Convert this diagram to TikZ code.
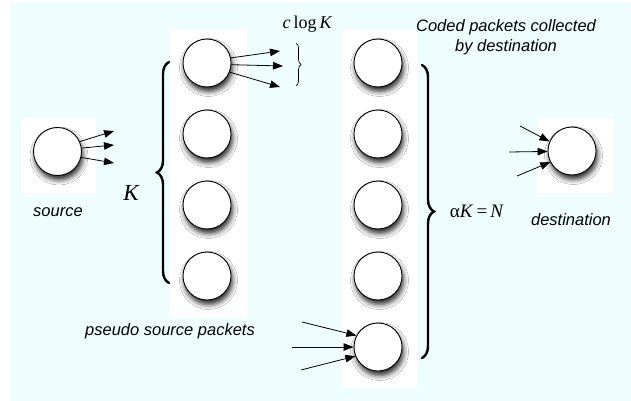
\documentclass[tikz,border=0pt]{standalone}
\usepackage{fontspec}
\setmainfont{Liberation Serif}
\newfontfamily\lsans{Liberation Sans}
\usetikzlibrary{arrows.meta,decorations.pathreplacing,shadows.blur}
\definecolor{bgcyan}{RGB}{238,254,255}
\tikzset{
  pkt/.style={circle,draw=black,line width=0.9pt,fill=white,minimum size=48pt,inner sep=0pt,
    blur shadow={shadow xshift=1.5pt,shadow yshift=-4.5pt,shadow blur radius=5pt,shadow opacity=85}},
  arr/.style={line width=0.8pt,-{Triangle[length=10pt,width=7.5pt]}},
  bigbrace/.style={decorate,decoration={brace,amplitude=12pt},line width=2.4pt,line cap=round},
  smallbrace/.style={decorate,decoration={brace,amplitude=5pt},line width=0.7pt},
  lbl/.style={font=\lsans\itshape\fontsize{16.5}{20}\selectfont,inner sep=0pt,align=center},
  mlbl/.style={inner sep=0pt}
}
\begin{document}
\begin{tikzpicture}[x=1pt,y=-1pt]
\useasboundingbox (0,0) rectangle (631,401);
\fill[bgcyan] (10,2) rectangle (631,401);
% white backgrounds
\fill[white] (21,118) rectangle (96,193);
\fill[white] (170,30) rectangle (247,318);
\fill[white] (342,30) rectangle (417,388);
\fill[white] (537,118) rectangle (613,193);
% source
\node[pkt] (src) at (57.5,151.5) {};
\coordinate (s1) at (114,131);
\coordinate (s2) at (114,145);
\coordinate (s3) at (114,163);
\draw[arr] (src.24) -- (s1);
\draw[arr] (src.8) -- (s2);
\draw[arr] (src.-14) -- (s3);
\node[lbl] (srclbl) at (58,212) {source};
% pseudo source column
\node[pkt] (p1) at (207,63) {};
\node[pkt] (p2) at (207,134) {};
\node[pkt] (p3) at (207,205) {};
\node[pkt] (p4) at (207,276) {};
\coordinate (t1) at (280,51);
\coordinate (t2) at (283,66);
\coordinate (t3) at (280,87);
\draw[arr] (p1.12) -- (t1);
\draw[arr] (p1.-4) -- (t2);
\draw[arr] (p1.-22) -- (t3);
\coordinate (sbA) at (296,43);
\coordinate (sbB) at (296,86);
\draw[smallbrace] (sbA) -- (sbB);
\node[mlbl,font=\fontsize{18}{20}\selectfont] (clog) at (307.5,24) {\textit{c}\,log\,\textit{K}};
\coordinate (kbA) at (169,283);
\coordinate (kbB) at (169,62);
\draw[bigbrace] (kbA) -- (kbB);
\node[mlbl,font=\fontsize{23}{26}\selectfont] (klbl) at (131.5,193) {\textit{K}};
\node[lbl] (pslbl) at (170,331) {pseudo source packets};
% coded column
\node[pkt] (c1) at (378,63) {};
\node[pkt] (c2) at (378,134) {};
\node[pkt] (c3) at (378,205) {};
\node[pkt] (c4) at (378,276) {};
\node[pkt] (c5) at (378,347) {};
\coordinate (b1) at (302,322);
\coordinate (b2) at (292,347);
\coordinate (b3) at (301,370);
\draw[arr] (b1) -- (c5.152);
\draw[arr] (b2) -- (c5.180);
\draw[arr] (b3) -- (c5.202);
\coordinate (rbA) at (422,65);
\coordinate (rbB) at (422,358);
\draw[bigbrace] (rbA) -- (rbB);
\node[mlbl,font=\fontsize{19}{22}\selectfont] (aklbl) at (477,211) {α\textit{K}\,=\,\textit{N}};
\node[lbl] (codedlbl) at (506,37) {Coded packets collected\\by destination};
% destination
\node[pkt] (dst) at (572,151) {};
\coordinate (d1) at (520,126);
\coordinate (d2) at (509,152);
\coordinate (d3) at (517,176);
\draw[arr] (d1) -- (dst.157);
\draw[arr] (d2) -- (dst.181);
\draw[arr] (d3) -- (dst.207);
\node[lbl] (dstlbl) at (571,220) {destination};
\end{tikzpicture}
\end{document}
